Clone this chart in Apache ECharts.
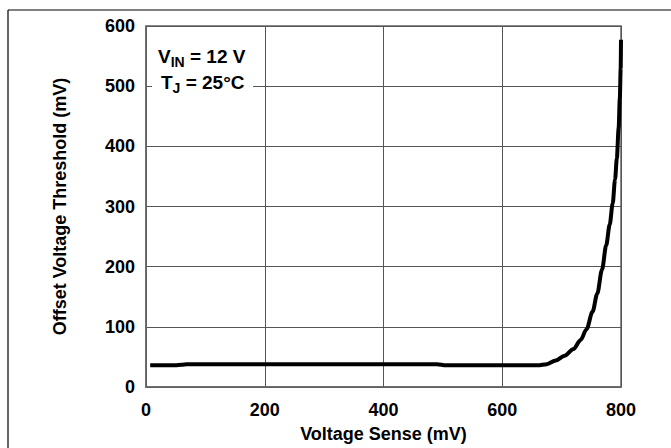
<!DOCTYPE html>
<html>
<head>
<meta charset="utf-8">
<script src="https://cdn.jsdelivr.net/npm/echarts@6/dist/echarts.min.js"></script>
<style>
html,body{margin:0;padding:0;background:#fff;}
#chart{width:671px;height:448px;}
</style>
</head>
<body>
<div id="chart"></div>
<script>
const xTicks = [0, 200, 400, 600, 800];
const yTicks = [0, 100, 200, 300, 400, 500, 600];
const senseMv = [7, 30, 49, 60, 69, 200, 400, 490, 505, 600, 660, 675, 690, 705, 720, 732, 742, 752, 760, 768, 775, 781, 786, 790, 793, 796, 798, 799.5, 800];
const offsetMv = [36, 36, 36, 37, 38, 38, 38, 38, 36, 36, 36, 38, 44, 52, 63, 78, 96, 125, 155, 195, 235, 270, 305, 345, 380, 430, 480, 530, 577];
const xName = 'Voltage Sense (mV)';
const yName = 'Offset Voltage Threshold (mV)';

const FONT = '"Liberation Sans", Arial, sans-serif';
const chart = echarts.init(document.getElementById('chart'), null, {renderer: 'svg'});
const data = senseMv.map((x, i) => [x, offsetMv[i]]);
const rich = {
  n: {fontFamily: FONT, fontWeight: 'bold', fontSize: 19, lineHeight: 24, verticalAlign: 'middle'},
  s: {fontFamily: FONT, fontWeight: 'bold', fontSize: 14, lineHeight: 12, verticalAlign: 'bottom'}
};

chart.setOption({
  animation: false,
  backgroundColor: '#fff',
  grid: {left: 146, right: 50, top: 26, bottom: 56, show: true, borderColor: '#666', borderWidth: 1.5, backgroundColor: 'transparent'},
  xAxis: {
    type: 'value', min: xTicks[0], max: xTicks[xTicks.length - 1], interval: 200,
    name: xName, nameLocation: 'middle', nameGap: 38,
    nameTextStyle: {fontFamily: FONT, fontWeight: 'bold', fontSize: 18, color: '#000'},
    axisLine: {show: true, lineStyle: {color: '#666', width: 1.5}},
    axisTick: {show: false},
    axisLabel: {fontFamily: FONT, fontWeight: 'bold', fontSize: 18, color: '#000', margin: 14},
    splitLine: {show: true, lineStyle: {color: '#555', width: 1}}
  },
  yAxis: {
    type: 'value', min: yTicks[0], max: yTicks[yTicks.length - 1], interval: 100,
    name: yName, nameLocation: 'middle', nameGap: 77, nameRotate: 90,
    nameTextStyle: {fontFamily: FONT, fontWeight: 'bold', fontSize: 18, color: '#000'},
    axisLine: {show: true, lineStyle: {color: '#666', width: 1.5}},
    axisTick: {show: false},
    axisLabel: {fontFamily: FONT, fontWeight: 'bold', fontSize: 18, color: '#000', margin: 11},
    splitLine: {show: true, lineStyle: {color: '#555', width: 1}}
  },
  series: [{
    type: 'line', data: data, showSymbol: false, smooth: 0.3, smoothMonotone: 'x',
    lineStyle: {color: '#000', width: 4}, z: 3
  }],
  graphic: [
    {type: 'line', shape: {x1: 8, y1: 10, x2: 671, y2: 10}, style: {stroke: '#000', lineWidth: 1.2}, silent: true},
    {type: 'line', shape: {x1: 8, y1: 10, x2: 8, y2: 448}, style: {stroke: '#000', lineWidth: 1.2}, silent: true},
    {type: 'rect', shape: {x: 152, y: 42, width: 101, height: 58}, style: {fill: '#fff'}, z: 10, silent: true},
    {type: 'text', left: 158, top: 47, z: 11, silent: true,
     style: {text: '{n|V}{s|IN}{n| = 12 V}', fill: '#000', rich: rich}},
    {type: 'text', left: 161, top: 73, z: 11, silent: true,
     style: {text: '{n|T}{s|J}{n| = 25°C}', fill: '#000', rich: rich}}
  ]
});
</script>
</body>
</html>
